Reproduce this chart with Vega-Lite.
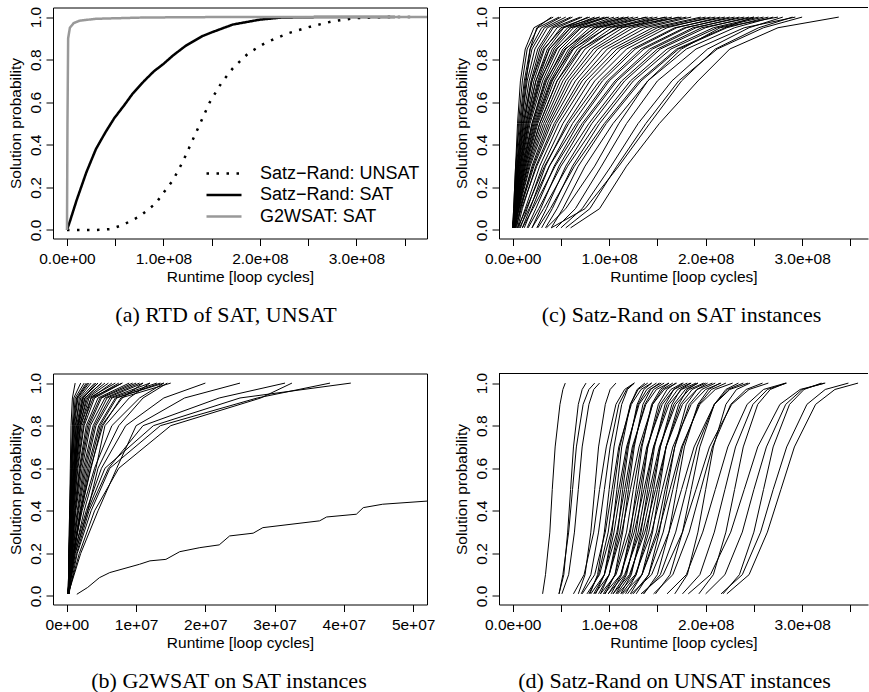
{
"$schema": "https://vega.github.io/schema/vega-lite/v6.json",
"padding": {"left": 7, "top": 5.5, "right": 0, "bottom": 0},
"autosize": {"type": "pad"},
"background": "white",
"config": {
 "font": "Liberation Sans",
 "view": {"stroke": "black", "strokeWidth": 1},
 "axis": {"grid": false, "domain": false, "tickColor": "black", "tickWidth": 1, "tickSize": 7, "labelColor": "black", "labelFont": "Liberation Sans", "labelFontSize": 15.5, "titleFont": "Liberation Sans", "titleFontSize": 15.5, "titleFontWeight": "normal", "titleColor": "black", "labelFlush": false, "labelOverlap": false},
 "axisX": {"labelPadding": 5.5, "titlePadding": 3},
 "axisY": {"labelAngle": -90, "labelAlign": "center", "labelBaseline": "alphabetic", "labelPadding": 6, "titlePadding": 5}
},
"datasets": {
"a": [
{"s":"Satz−Rand: UNSAT","x":0,"y":0},{"s":"Satz−Rand: UNSAT","x":0.3e8,"y":0},{"s":"Satz−Rand: UNSAT","x":0.45e8,"y":0.004},{"s":"Satz−Rand: UNSAT","x":0.58e8,"y":0.024},{"s":"Satz−Rand: UNSAT","x":0.75e8,"y":0.063},{"s":"Satz−Rand: UNSAT","x":0.92e8,"y":0.125},{"s":"Satz−Rand: UNSAT","x":1.0e8,"y":0.175},{"s":"Satz−Rand: UNSAT","x":1.1e8,"y":0.235},{"s":"Satz−Rand: UNSAT","x":1.2e8,"y":0.32},{"s":"Satz−Rand: UNSAT","x":1.27e8,"y":0.39},{"s":"Satz−Rand: UNSAT","x":1.38e8,"y":0.5},{"s":"Satz−Rand: UNSAT","x":1.48e8,"y":0.6},{"s":"Satz−Rand: UNSAT","x":1.6e8,"y":0.69},{"s":"Satz−Rand: UNSAT","x":1.72e8,"y":0.76},{"s":"Satz−Rand: UNSAT","x":1.88e8,"y":0.83},{"s":"Satz−Rand: UNSAT","x":2.06e8,"y":0.88},{"s":"Satz−Rand: UNSAT","x":2.3e8,"y":0.925},{"s":"Satz−Rand: UNSAT","x":2.53e8,"y":0.956},{"s":"Satz−Rand: UNSAT","x":2.75e8,"y":0.98},{"s":"Satz−Rand: UNSAT","x":2.99e8,"y":0.995},{"s":"Satz−Rand: UNSAT","x":3.3e8,"y":1},{"s":"Satz−Rand: UNSAT","x":3.6e8,"y":1},
{"s":"Satz−Rand: SAT","x":0,"y":0},{"s":"Satz−Rand: SAT","x":0.03e8,"y":0.04},{"s":"Satz−Rand: SAT","x":0.1e8,"y":0.14},{"s":"Satz−Rand: SAT","x":0.2e8,"y":0.27},{"s":"Satz−Rand: SAT","x":0.3e8,"y":0.38},{"s":"Satz−Rand: SAT","x":0.4e8,"y":0.46},{"s":"Satz−Rand: SAT","x":0.49e8,"y":0.525},{"s":"Satz−Rand: SAT","x":0.6e8,"y":0.59},{"s":"Satz−Rand: SAT","x":0.68e8,"y":0.64},{"s":"Satz−Rand: SAT","x":0.8e8,"y":0.7},{"s":"Satz−Rand: SAT","x":0.9e8,"y":0.745},{"s":"Satz−Rand: SAT","x":1.0e8,"y":0.78},{"s":"Satz−Rand: SAT","x":1.1e8,"y":0.82},{"s":"Satz−Rand: SAT","x":1.23e8,"y":0.865},{"s":"Satz−Rand: SAT","x":1.4e8,"y":0.91},{"s":"Satz−Rand: SAT","x":1.51e8,"y":0.93},{"s":"Satz−Rand: SAT","x":1.72e8,"y":0.965},{"s":"Satz−Rand: SAT","x":2.0e8,"y":0.988},{"s":"Satz−Rand: SAT","x":2.23e8,"y":0.998},{"s":"Satz−Rand: SAT","x":2.6e8,"y":1},{"s":"Satz−Rand: SAT","x":3.4e8,"y":1},
{"s":"G2WSAT: SAT","x":0,"y":0},{"s":"G2WSAT: SAT","x":0.005e8,"y":0.5},{"s":"G2WSAT: SAT","x":0.012e8,"y":0.9},{"s":"G2WSAT: SAT","x":0.03e8,"y":0.95},{"s":"G2WSAT: SAT","x":0.07e8,"y":0.972},{"s":"G2WSAT: SAT","x":0.13e8,"y":0.983},{"s":"G2WSAT: SAT","x":0.3e8,"y":0.992},{"s":"G2WSAT: SAT","x":0.8e8,"y":0.998},{"s":"G2WSAT: SAT","x":1.5e8,"y":1},{"s":"G2WSAT: SAT","x":3.8e8,"y":1}
],
"c": [
{"i":1,"x":0.01e8,"y":0.01},{"i":1,"x":0.02e8,"y":0.1},{"i":1,"x":0.05e8,"y":0.3},{"i":1,"x":0.09e8,"y":0.5},{"i":1,"x":0.14e8,"y":0.7},{"i":1,"x":0.18e8,"y":0.85},{"i":1,"x":0.25e8,"y":0.95},{"i":1,"x":0.4e8,"y":1},
{"i":2,"x":0.0e8,"y":0.01},{"i":2,"x":0.01e8,"y":0.1},{"i":2,"x":0.03e8,"y":0.3},{"i":2,"x":0.05e8,"y":0.5},{"i":2,"x":0.08e8,"y":0.7},{"i":2,"x":0.13e8,"y":0.85},{"i":2,"x":0.22e8,"y":0.95},{"i":2,"x":0.42e8,"y":1},
{"i":3,"x":0.01e8,"y":0.01},{"i":3,"x":0.015e8,"y":0.1},{"i":3,"x":0.035e8,"y":0.3},{"i":3,"x":0.06e8,"y":0.5},{"i":3,"x":0.1e8,"y":0.7},{"i":3,"x":0.15e8,"y":0.85},{"i":3,"x":0.26e8,"y":0.95},{"i":3,"x":0.48e8,"y":1},
{"i":4,"x":0.0e8,"y":0.01},{"i":4,"x":0.01e8,"y":0.1},{"i":4,"x":0.03e8,"y":0.3},{"i":4,"x":0.07e8,"y":0.5},{"i":4,"x":0.12e8,"y":0.7},{"i":4,"x":0.18e8,"y":0.85},{"i":4,"x":0.3e8,"y":0.95},{"i":4,"x":0.5e8,"y":1},
{"i":5,"x":0.005e8,"y":0.01},{"i":5,"x":0.015e8,"y":0.1},{"i":5,"x":0.04e8,"y":0.3},{"i":5,"x":0.08e8,"y":0.5},{"i":5,"x":0.13e8,"y":0.7},{"i":5,"x":0.2e8,"y":0.85},{"i":5,"x":0.33e8,"y":0.95},{"i":5,"x":0.55e8,"y":1},
{"i":6,"x":0.0e8,"y":0.01},{"i":6,"x":0.02e8,"y":0.1},{"i":6,"x":0.045e8,"y":0.3},{"i":6,"x":0.09e8,"y":0.5},{"i":6,"x":0.15e8,"y":0.7},{"i":6,"x":0.23e8,"y":0.85},{"i":6,"x":0.36e8,"y":0.95},{"i":6,"x":0.6e8,"y":1},
{"i":7,"x":0.01e8,"y":0.01},{"i":7,"x":0.02e8,"y":0.1},{"i":7,"x":0.05e8,"y":0.3},{"i":7,"x":0.1e8,"y":0.5},{"i":7,"x":0.17e8,"y":0.7},{"i":7,"x":0.26e8,"y":0.85},{"i":7,"x":0.4e8,"y":0.95},{"i":7,"x":0.62e8,"y":1},
{"i":8,"x":0.0e8,"y":0.01},{"i":8,"x":0.015e8,"y":0.1},{"i":8,"x":0.055e8,"y":0.3},{"i":8,"x":0.11e8,"y":0.5},{"i":8,"x":0.19e8,"y":0.7},{"i":8,"x":0.28e8,"y":0.85},{"i":8,"x":0.42e8,"y":0.95},{"i":8,"x":0.7e8,"y":1},
{"i":9,"x":0.01e8,"y":0.01},{"i":9,"x":0.025e8,"y":0.1},{"i":9,"x":0.06e8,"y":0.3},{"i":9,"x":0.12e8,"y":0.5},{"i":9,"x":0.2e8,"y":0.7},{"i":9,"x":0.3e8,"y":0.85},{"i":9,"x":0.46e8,"y":0.95},{"i":9,"x":0.72e8,"y":1},
{"i":10,"x":0.0e8,"y":0.01},{"i":10,"x":0.02e8,"y":0.1},{"i":10,"x":0.065e8,"y":0.3},{"i":10,"x":0.13e8,"y":0.5},{"i":10,"x":0.22e8,"y":0.7},{"i":10,"x":0.33e8,"y":0.85},{"i":10,"x":0.5e8,"y":0.95},{"i":10,"x":0.8e8,"y":1},
{"i":11,"x":0.02e8,"y":0.01},{"i":11,"x":0.03e8,"y":0.1},{"i":11,"x":0.07e8,"y":0.3},{"i":11,"x":0.14e8,"y":0.5},{"i":11,"x":0.24e8,"y":0.7},{"i":11,"x":0.36e8,"y":0.85},{"i":11,"x":0.53e8,"y":0.95},{"i":11,"x":0.78e8,"y":1},
{"i":12,"x":0.0e8,"y":0.01},{"i":12,"x":0.025e8,"y":0.1},{"i":12,"x":0.075e8,"y":0.3},{"i":12,"x":0.15e8,"y":0.5},{"i":12,"x":0.26e8,"y":0.7},{"i":12,"x":0.38e8,"y":0.85},{"i":12,"x":0.57e8,"y":0.95},{"i":12,"x":0.85e8,"y":1},
{"i":13,"x":0.01e8,"y":0.01},{"i":13,"x":0.03e8,"y":0.1},{"i":13,"x":0.08e8,"y":0.3},{"i":13,"x":0.16e8,"y":0.5},{"i":13,"x":0.27e8,"y":0.7},{"i":13,"x":0.41e8,"y":0.85},{"i":13,"x":0.6e8,"y":0.95},{"i":13,"x":0.9e8,"y":1},
{"i":14,"x":0.0e8,"y":0.01},{"i":14,"x":0.03e8,"y":0.1},{"i":14,"x":0.09e8,"y":0.3},{"i":14,"x":0.17e8,"y":0.5},{"i":14,"x":0.29e8,"y":0.7},{"i":14,"x":0.43e8,"y":0.85},{"i":14,"x":0.63e8,"y":0.95},{"i":14,"x":0.95e8,"y":1},
{"i":15,"x":0.02e8,"y":0.01},{"i":15,"x":0.04e8,"y":0.1},{"i":15,"x":0.1e8,"y":0.3},{"i":15,"x":0.18e8,"y":0.5},{"i":15,"x":0.31e8,"y":0.7},{"i":15,"x":0.46e8,"y":0.85},{"i":15,"x":0.67e8,"y":0.95},{"i":15,"x":0.98e8,"y":1},
{"i":16,"x":0.0e8,"y":0.01},{"i":16,"x":0.03e8,"y":0.1},{"i":16,"x":0.1e8,"y":0.3},{"i":16,"x":0.2e8,"y":0.5},{"i":16,"x":0.33e8,"y":0.7},{"i":16,"x":0.49e8,"y":0.85},{"i":16,"x":0.71e8,"y":0.95},{"i":16,"x":1.05e8,"y":1},
{"i":17,"x":0.01e8,"y":0.01},{"i":17,"x":0.035e8,"y":0.1},{"i":17,"x":0.11e8,"y":0.3},{"i":17,"x":0.21e8,"y":0.5},{"i":17,"x":0.35e8,"y":0.7},{"i":17,"x":0.52e8,"y":0.85},{"i":17,"x":0.75e8,"y":0.95},{"i":17,"x":1.1e8,"y":1},
{"i":18,"x":0.0e8,"y":0.01},{"i":18,"x":0.04e8,"y":0.1},{"i":18,"x":0.12e8,"y":0.3},{"i":18,"x":0.22e8,"y":0.5},{"i":18,"x":0.37e8,"y":0.7},{"i":18,"x":0.55e8,"y":0.85},{"i":18,"x":0.8e8,"y":0.95},{"i":18,"x":1.15e8,"y":1},
{"i":19,"x":0.02e8,"y":0.01},{"i":19,"x":0.045e8,"y":0.1},{"i":19,"x":0.12e8,"y":0.3},{"i":19,"x":0.23e8,"y":0.5},{"i":19,"x":0.39e8,"y":0.7},{"i":19,"x":0.58e8,"y":0.85},{"i":19,"x":0.84e8,"y":0.95},{"i":19,"x":1.2e8,"y":1},
{"i":20,"x":0.0e8,"y":0.01},{"i":20,"x":0.04e8,"y":0.1},{"i":20,"x":0.13e8,"y":0.3},{"i":20,"x":0.25e8,"y":0.5},{"i":20,"x":0.41e8,"y":0.7},{"i":20,"x":0.6e8,"y":0.85},{"i":20,"x":0.88e8,"y":0.95},{"i":20,"x":1.25e8,"y":1},
{"i":21,"x":0.01e8,"y":0.01},{"i":21,"x":0.05e8,"y":0.1},{"i":21,"x":0.14e8,"y":0.3},{"i":21,"x":0.26e8,"y":0.5},{"i":21,"x":0.43e8,"y":0.7},{"i":21,"x":0.63e8,"y":0.85},{"i":21,"x":0.92e8,"y":0.95},{"i":21,"x":1.3e8,"y":1},
{"i":22,"x":0.03e8,"y":0.01},{"i":22,"x":0.06e8,"y":0.1},{"i":22,"x":0.15e8,"y":0.3},{"i":22,"x":0.28e8,"y":0.5},{"i":22,"x":0.46e8,"y":0.7},{"i":22,"x":0.67e8,"y":0.85},{"i":22,"x":0.97e8,"y":0.95},{"i":22,"x":1.38e8,"y":1},
{"i":23,"x":0.0e8,"y":0.01},{"i":23,"x":0.05e8,"y":0.1},{"i":23,"x":0.16e8,"y":0.3},{"i":23,"x":0.3e8,"y":0.5},{"i":23,"x":0.49e8,"y":0.7},{"i":23,"x":0.71e8,"y":0.85},{"i":23,"x":1.03e8,"y":0.95},{"i":23,"x":1.45e8,"y":1},
{"i":24,"x":0.02e8,"y":0.01},{"i":24,"x":0.06e8,"y":0.1},{"i":24,"x":0.17e8,"y":0.3},{"i":24,"x":0.32e8,"y":0.5},{"i":24,"x":0.52e8,"y":0.7},{"i":24,"x":0.75e8,"y":0.85},{"i":24,"x":1.08e8,"y":0.95},{"i":24,"x":1.5e8,"y":1},
{"i":25,"x":0.01e8,"y":0.01},{"i":25,"x":0.065e8,"y":0.1},{"i":25,"x":0.18e8,"y":0.3},{"i":25,"x":0.34e8,"y":0.5},{"i":25,"x":0.55e8,"y":0.7},{"i":25,"x":0.8e8,"y":0.85},{"i":25,"x":1.14e8,"y":0.95},{"i":25,"x":1.58e8,"y":1},
{"i":26,"x":0.04e8,"y":0.01},{"i":26,"x":0.08e8,"y":0.1},{"i":26,"x":0.2e8,"y":0.3},{"i":26,"x":0.36e8,"y":0.5},{"i":26,"x":0.58e8,"y":0.7},{"i":26,"x":0.84e8,"y":0.85},{"i":26,"x":1.2e8,"y":0.95},{"i":26,"x":1.65e8,"y":1},
{"i":27,"x":0.0e8,"y":0.01},{"i":27,"x":0.07e8,"y":0.1},{"i":27,"x":0.21e8,"y":0.3},{"i":27,"x":0.38e8,"y":0.5},{"i":27,"x":0.61e8,"y":0.7},{"i":27,"x":0.88e8,"y":0.85},{"i":27,"x":1.25e8,"y":0.95},{"i":27,"x":1.72e8,"y":1},
{"i":28,"x":0.02e8,"y":0.01},{"i":28,"x":0.08e8,"y":0.1},{"i":28,"x":0.22e8,"y":0.3},{"i":28,"x":0.4e8,"y":0.5},{"i":28,"x":0.65e8,"y":0.7},{"i":28,"x":0.93e8,"y":0.85},{"i":28,"x":1.32e8,"y":0.95},{"i":28,"x":1.8e8,"y":1},
{"i":29,"x":0.05e8,"y":0.01},{"i":29,"x":0.1e8,"y":0.1},{"i":29,"x":0.24e8,"y":0.3},{"i":29,"x":0.43e8,"y":0.5},{"i":29,"x":0.69e8,"y":0.7},{"i":29,"x":0.98e8,"y":0.85},{"i":29,"x":1.38e8,"y":0.95},{"i":29,"x":1.85e8,"y":1},
{"i":30,"x":0.03e8,"y":0.01},{"i":30,"x":0.09e8,"y":0.1},{"i":30,"x":0.25e8,"y":0.3},{"i":30,"x":0.45e8,"y":0.5},{"i":30,"x":0.72e8,"y":0.7},{"i":30,"x":1.03e8,"y":0.85},{"i":30,"x":1.45e8,"y":0.95},{"i":30,"x":1.95e8,"y":1},
{"i":31,"x":0.06e8,"y":0.01},{"i":31,"x":0.13e8,"y":0.1},{"i":31,"x":0.28e8,"y":0.3},{"i":31,"x":0.48e8,"y":0.5},{"i":31,"x":0.76e8,"y":0.7},{"i":31,"x":1.08e8,"y":0.85},{"i":31,"x":1.5e8,"y":0.95},{"i":31,"x":2.0e8,"y":1},
{"i":32,"x":0.08e8,"y":0.01},{"i":32,"x":0.15e8,"y":0.1},{"i":32,"x":0.31e8,"y":0.3},{"i":32,"x":0.52e8,"y":0.5},{"i":32,"x":0.8e8,"y":0.7},{"i":32,"x":1.12e8,"y":0.85},{"i":32,"x":1.55e8,"y":0.95},{"i":32,"x":2.1e8,"y":1},
{"i":33,"x":0.1e8,"y":0.01},{"i":33,"x":0.18e8,"y":0.1},{"i":33,"x":0.34e8,"y":0.3},{"i":33,"x":0.56e8,"y":0.5},{"i":33,"x":0.85e8,"y":0.7},{"i":33,"x":1.18e8,"y":0.85},{"i":33,"x":1.6e8,"y":0.95},{"i":33,"x":2.05e8,"y":1},
{"i":34,"x":0.05e8,"y":0.01},{"i":34,"x":0.14e8,"y":0.1},{"i":34,"x":0.33e8,"y":0.3},{"i":34,"x":0.58e8,"y":0.5},{"i":34,"x":0.9e8,"y":0.7},{"i":34,"x":1.24e8,"y":0.85},{"i":34,"x":1.68e8,"y":0.95},{"i":34,"x":2.2e8,"y":1},
{"i":35,"x":0.12e8,"y":0.01},{"i":35,"x":0.2e8,"y":0.1},{"i":35,"x":0.38e8,"y":0.3},{"i":35,"x":0.62e8,"y":0.5},{"i":35,"x":0.93e8,"y":0.7},{"i":35,"x":1.27e8,"y":0.85},{"i":35,"x":1.7e8,"y":0.95},{"i":35,"x":2.15e8,"y":1},
{"i":36,"x":0.07e8,"y":0.01},{"i":36,"x":0.17e8,"y":0.1},{"i":36,"x":0.38e8,"y":0.3},{"i":36,"x":0.66e8,"y":0.5},{"i":36,"x":0.98e8,"y":0.7},{"i":36,"x":1.33e8,"y":0.85},{"i":36,"x":1.78e8,"y":0.95},{"i":36,"x":2.3e8,"y":1},
{"i":37,"x":0.15e8,"y":0.01},{"i":37,"x":0.24e8,"y":0.1},{"i":37,"x":0.43e8,"y":0.3},{"i":37,"x":0.68e8,"y":0.5},{"i":37,"x":1.0e8,"y":0.7},{"i":37,"x":1.36e8,"y":0.85},{"i":37,"x":1.8e8,"y":0.95},{"i":37,"x":2.25e8,"y":1},
{"i":38,"x":0.1e8,"y":0.01},{"i":38,"x":0.21e8,"y":0.1},{"i":38,"x":0.44e8,"y":0.3},{"i":38,"x":0.72e8,"y":0.5},{"i":38,"x":1.06e8,"y":0.7},{"i":38,"x":1.42e8,"y":0.85},{"i":38,"x":1.87e8,"y":0.95},{"i":38,"x":2.4e8,"y":1},
{"i":39,"x":0.2e8,"y":0.01},{"i":39,"x":0.29e8,"y":0.1},{"i":39,"x":0.48e8,"y":0.3},{"i":39,"x":0.74e8,"y":0.5},{"i":39,"x":1.08e8,"y":0.7},{"i":39,"x":1.45e8,"y":0.85},{"i":39,"x":1.9e8,"y":0.95},{"i":39,"x":2.35e8,"y":1},
{"i":40,"x":0.16e8,"y":0.01},{"i":40,"x":0.27e8,"y":0.1},{"i":40,"x":0.5e8,"y":0.3},{"i":40,"x":0.79e8,"y":0.5},{"i":40,"x":1.13e8,"y":0.7},{"i":40,"x":1.5e8,"y":0.85},{"i":40,"x":1.96e8,"y":0.95},{"i":40,"x":2.5e8,"y":1},
{"i":41,"x":0.25e8,"y":0.01},{"i":41,"x":0.35e8,"y":0.1},{"i":41,"x":0.55e8,"y":0.3},{"i":41,"x":0.82e8,"y":0.5},{"i":41,"x":1.16e8,"y":0.7},{"i":41,"x":1.53e8,"y":0.85},{"i":41,"x":2.0e8,"y":0.95},{"i":41,"x":2.45e8,"y":1},
{"i":42,"x":0.2e8,"y":0.01},{"i":42,"x":0.32e8,"y":0.1},{"i":42,"x":0.57e8,"y":0.3},{"i":42,"x":0.87e8,"y":0.5},{"i":42,"x":1.22e8,"y":0.7},{"i":42,"x":1.6e8,"y":0.85},{"i":42,"x":2.08e8,"y":0.95},{"i":42,"x":2.55e8,"y":1},
{"i":43,"x":0.3e8,"y":0.01},{"i":43,"x":0.41e8,"y":0.1},{"i":43,"x":0.62e8,"y":0.3},{"i":43,"x":0.9e8,"y":0.5},{"i":43,"x":1.25e8,"y":0.7},{"i":43,"x":1.64e8,"y":0.85},{"i":43,"x":2.12e8,"y":0.95},{"i":43,"x":2.6e8,"y":1},
{"i":44,"x":0.26e8,"y":0.01},{"i":44,"x":0.39e8,"y":0.1},{"i":44,"x":0.64e8,"y":0.3},{"i":44,"x":0.95e8,"y":0.5},{"i":44,"x":1.31e8,"y":0.7},{"i":44,"x":1.7e8,"y":0.85},{"i":44,"x":2.2e8,"y":0.95},{"i":44,"x":2.5e8,"y":1},
{"i":45,"x":0.34e8,"y":0.01},{"i":45,"x":0.46e8,"y":0.1},{"i":45,"x":0.68e8,"y":0.3},{"i":45,"x":0.97e8,"y":0.5},{"i":45,"x":1.33e8,"y":0.7},{"i":45,"x":1.72e8,"y":0.85},{"i":45,"x":2.22e8,"y":0.95},{"i":45,"x":2.65e8,"y":1},
{"i":46,"x":0.4e8,"y":0.01},{"i":46,"x":0.52e8,"y":0.1},{"i":46,"x":0.75e8,"y":0.3},{"i":46,"x":1.04e8,"y":0.5},{"i":46,"x":1.4e8,"y":0.7},{"i":46,"x":1.8e8,"y":0.85},{"i":46,"x":2.3e8,"y":0.95},{"i":46,"x":2.7e8,"y":1},
{"i":47,"x":0.35e8,"y":0.01},{"i":47,"x":0.55e8,"y":0.1},{"i":47,"x":0.85e8,"y":0.3},{"i":47,"x":1.1e8,"y":0.5},{"i":47,"x":1.4e8,"y":0.7},{"i":47,"x":1.75e8,"y":0.85},{"i":47,"x":2.15e8,"y":0.95},{"i":47,"x":2.75e8,"y":1},
{"i":48,"x":0.45e8,"y":0.01},{"i":48,"x":0.65e8,"y":0.1},{"i":48,"x":0.92e8,"y":0.3},{"i":48,"x":1.18e8,"y":0.5},{"i":48,"x":1.5e8,"y":0.7},{"i":48,"x":1.9e8,"y":0.85},{"i":48,"x":2.4e8,"y":0.95},{"i":48,"x":2.93e8,"y":1},
{"i":49,"x":0.5e8,"y":0.01},{"i":49,"x":0.72e8,"y":0.1},{"i":49,"x":1.02e8,"y":0.3},{"i":49,"x":1.3e8,"y":0.5},{"i":49,"x":1.65e8,"y":0.7},{"i":49,"x":2.02e8,"y":0.85},{"i":49,"x":2.45e8,"y":0.95},{"i":49,"x":2.8e8,"y":1},
{"i":50,"x":0.6e8,"y":0.01},{"i":50,"x":0.9e8,"y":0.1},{"i":50,"x":1.18e8,"y":0.3},{"i":50,"x":1.52e8,"y":0.5},{"i":50,"x":1.92e8,"y":0.7},{"i":50,"x":2.25e8,"y":0.85},{"i":50,"x":2.75e8,"y":0.95},{"i":50,"x":3.38e8,"y":1},
{"i":51,"x":0.4e8,"y":0.01},{"i":51,"x":0.75e8,"y":0.1},{"i":51,"x":1.1e8,"y":0.3},{"i":51,"x":1.42e8,"y":0.5},{"i":51,"x":1.75e8,"y":0.7},{"i":51,"x":2.1e8,"y":0.85},{"i":51,"x":2.55e8,"y":0.95},{"i":51,"x":2.9e8,"y":1},
{"i":52,"x":0.55e8,"y":0.01},{"i":52,"x":0.8e8,"y":0.1},{"i":52,"x":1.08e8,"y":0.3},{"i":52,"x":1.38e8,"y":0.5},{"i":52,"x":1.72e8,"y":0.7},{"i":52,"x":2.12e8,"y":0.85},{"i":52,"x":2.6e8,"y":0.95},{"i":52,"x":3.0e8,"y":1},
{"i":53,"x":0.0e8,"y":0.01},{"i":53,"x":0.02e8,"y":0.1},{"i":53,"x":0.06e8,"y":0.3},{"i":53,"x":0.11e8,"y":0.5},{"i":53,"x":0.2e8,"y":0.7},{"i":53,"x":0.32e8,"y":0.85},{"i":53,"x":0.52e8,"y":0.95},{"i":53,"x":0.9e8,"y":1},
{"i":54,"x":0.01e8,"y":0.01},{"i":54,"x":0.03e8,"y":0.1},{"i":54,"x":0.09e8,"y":0.3},{"i":54,"x":0.16e8,"y":0.5},{"i":54,"x":0.28e8,"y":0.7},{"i":54,"x":0.45e8,"y":0.85},{"i":54,"x":0.7e8,"y":0.95},{"i":54,"x":1.2e8,"y":1},
{"i":55,"x":0.0e8,"y":0.01},{"i":55,"x":0.04e8,"y":0.1},{"i":55,"x":0.11e8,"y":0.3},{"i":55,"x":0.2e8,"y":0.5},{"i":55,"x":0.34e8,"y":0.7},{"i":55,"x":0.54e8,"y":0.85},{"i":55,"x":0.85e8,"y":0.95},{"i":55,"x":1.4e8,"y":1},
{"i":56,"x":0.02e8,"y":0.01},{"i":56,"x":0.05e8,"y":0.1},{"i":56,"x":0.13e8,"y":0.3},{"i":56,"x":0.24e8,"y":0.5},{"i":56,"x":0.4e8,"y":0.7},{"i":56,"x":0.62e8,"y":0.85},{"i":56,"x":0.98e8,"y":0.95},{"i":56,"x":1.6e8,"y":1},
{"i":57,"x":0.0e8,"y":0.01},{"i":57,"x":0.03e8,"y":0.1},{"i":57,"x":0.08e8,"y":0.3},{"i":57,"x":0.14e8,"y":0.5},{"i":57,"x":0.24e8,"y":0.7},{"i":57,"x":0.38e8,"y":0.85},{"i":57,"x":0.6e8,"y":0.95},{"i":57,"x":1.0e8,"y":1},
{"i":58,"x":0.01e8,"y":0.01},{"i":58,"x":0.06e8,"y":0.1},{"i":58,"x":0.15e8,"y":0.3},{"i":58,"x":0.28e8,"y":0.5},{"i":58,"x":0.46e8,"y":0.7},{"i":58,"x":0.7e8,"y":0.85},{"i":58,"x":1.1e8,"y":0.95},{"i":58,"x":1.75e8,"y":1}
],
"b": [
{"i":1,"x":0.02e7,"y":0.01},{"i":1,"x":0.03e7,"y":0.2},{"i":1,"x":0.04e7,"y":0.4},{"i":1,"x":0.05e7,"y":0.6},{"i":1,"x":0.06e7,"y":0.8},{"i":1,"x":0.08e7,"y":0.93},{"i":1,"x":0.12e7,"y":1},
{"i":2,"x":0.02e7,"y":0.01},{"i":2,"x":0.03e7,"y":0.2},{"i":2,"x":0.05e7,"y":0.4},{"i":2,"x":0.07e7,"y":0.6},{"i":2,"x":0.1e7,"y":0.8},{"i":2,"x":0.15e7,"y":0.93},{"i":2,"x":0.3e7,"y":1},
{"i":3,"x":0.02e7,"y":0.01},{"i":3,"x":0.04e7,"y":0.2},{"i":3,"x":0.06e7,"y":0.4},{"i":3,"x":0.09e7,"y":0.6},{"i":3,"x":0.14e7,"y":0.8},{"i":3,"x":0.22e7,"y":0.93},{"i":3,"x":0.45e7,"y":1},
{"i":4,"x":0.02e7,"y":0.01},{"i":4,"x":0.04e7,"y":0.2},{"i":4,"x":0.07e7,"y":0.4},{"i":4,"x":0.11e7,"y":0.6},{"i":4,"x":0.18e7,"y":0.8},{"i":4,"x":0.3e7,"y":0.93},{"i":4,"x":0.6e7,"y":1},
{"i":5,"x":0.02e7,"y":0.01},{"i":5,"x":0.05e7,"y":0.2},{"i":5,"x":0.09e7,"y":0.4},{"i":5,"x":0.14e7,"y":0.6},{"i":5,"x":0.22e7,"y":0.8},{"i":5,"x":0.38e7,"y":0.93},{"i":5,"x":0.75e7,"y":1},
{"i":6,"x":0.02e7,"y":0.01},{"i":6,"x":0.06e7,"y":0.2},{"i":6,"x":0.11e7,"y":0.4},{"i":6,"x":0.18e7,"y":0.6},{"i":6,"x":0.28e7,"y":0.8},{"i":6,"x":0.45e7,"y":0.93},{"i":6,"x":0.9e7,"y":1},
{"i":7,"x":0.02e7,"y":0.01},{"i":7,"x":0.07e7,"y":0.2},{"i":7,"x":0.13e7,"y":0.4},{"i":7,"x":0.22e7,"y":0.6},{"i":7,"x":0.34e7,"y":0.8},{"i":7,"x":0.55e7,"y":0.93},{"i":7,"x":1.05e7,"y":1},
{"i":8,"x":0.02e7,"y":0.01},{"i":8,"x":0.08e7,"y":0.2},{"i":8,"x":0.16e7,"y":0.4},{"i":8,"x":0.26e7,"y":0.6},{"i":8,"x":0.4e7,"y":0.8},{"i":8,"x":0.62e7,"y":0.93},{"i":8,"x":1.2e7,"y":1},
{"i":9,"x":0.02e7,"y":0.01},{"i":9,"x":0.09e7,"y":0.2},{"i":9,"x":0.19e7,"y":0.4},{"i":9,"x":0.3e7,"y":0.6},{"i":9,"x":0.46e7,"y":0.8},{"i":9,"x":0.7e7,"y":0.93},{"i":9,"x":1.4e7,"y":1},
{"i":10,"x":0.03e7,"y":0.01},{"i":10,"x":0.1e7,"y":0.2},{"i":10,"x":0.21e7,"y":0.4},{"i":10,"x":0.34e7,"y":0.6},{"i":10,"x":0.52e7,"y":0.8},{"i":10,"x":0.78e7,"y":0.93},{"i":10,"x":1.5e7,"y":1},
{"i":11,"x":0.02e7,"y":0.01},{"i":11,"x":0.05e7,"y":0.2},{"i":11,"x":0.08e7,"y":0.4},{"i":11,"x":0.12e7,"y":0.6},{"i":11,"x":0.2e7,"y":0.8},{"i":11,"x":0.32e7,"y":0.93},{"i":11,"x":0.7e7,"y":1},
{"i":12,"x":0.02e7,"y":0.01},{"i":12,"x":0.03e7,"y":0.2},{"i":12,"x":0.06e7,"y":0.4},{"i":12,"x":0.1e7,"y":0.6},{"i":12,"x":0.16e7,"y":0.8},{"i":12,"x":0.26e7,"y":0.93},{"i":12,"x":0.5e7,"y":1},
{"i":13,"x":0.02e7,"y":0.01},{"i":13,"x":0.06e7,"y":0.2},{"i":13,"x":0.12e7,"y":0.4},{"i":13,"x":0.2e7,"y":0.6},{"i":13,"x":0.32e7,"y":0.8},{"i":13,"x":0.5e7,"y":0.93},{"i":13,"x":1.0e7,"y":1},
{"i":14,"x":0.02e7,"y":0.01},{"i":14,"x":0.08e7,"y":0.2},{"i":14,"x":0.17e7,"y":0.4},{"i":14,"x":0.28e7,"y":0.6},{"i":14,"x":0.42e7,"y":0.8},{"i":14,"x":0.65e7,"y":0.93},{"i":14,"x":1.3e7,"y":1},
{"i":15,"x":0.02e7,"y":0.01},{"i":15,"x":0.04e7,"y":0.2},{"i":15,"x":0.08e7,"y":0.4},{"i":15,"x":0.13e7,"y":0.6},{"i":15,"x":0.2e7,"y":0.8},{"i":15,"x":0.35e7,"y":0.93},{"i":15,"x":0.8e7,"y":1},
{"i":16,"x":0.02e7,"y":0.01},{"i":16,"x":0.03e7,"y":0.2},{"i":16,"x":0.05e7,"y":0.4},{"i":16,"x":0.08e7,"y":0.6},{"i":16,"x":0.12e7,"y":0.8},{"i":16,"x":0.2e7,"y":0.93},{"i":16,"x":0.4e7,"y":1},
{"i":17,"x":0.02e7,"y":0.01},{"i":17,"x":0.07e7,"y":0.2},{"i":17,"x":0.15e7,"y":0.4},{"i":17,"x":0.24e7,"y":0.6},{"i":17,"x":0.38e7,"y":0.8},{"i":17,"x":0.58e7,"y":0.93},{"i":17,"x":1.1e7,"y":1},
{"i":18,"x":0.02e7,"y":0.01},{"i":18,"x":0.1e7,"y":0.2},{"i":18,"x":0.2e7,"y":0.4},{"i":18,"x":0.32e7,"y":0.6},{"i":18,"x":0.48e7,"y":0.8},{"i":18,"x":0.72e7,"y":0.93},{"i":18,"x":1.35e7,"y":1},
{"i":19,"x":0.03e7,"y":0.01},{"i":19,"x":0.04e7,"y":0.2},{"i":19,"x":0.05e7,"y":0.4},{"i":19,"x":0.06e7,"y":0.6},{"i":19,"x":0.08e7,"y":0.8},{"i":19,"x":0.1e7,"y":0.93},{"i":19,"x":0.2e7,"y":1},
{"i":20,"x":0.02e7,"y":0.01},{"i":20,"x":0.05e7,"y":0.2},{"i":20,"x":0.07e7,"y":0.4},{"i":20,"x":0.1e7,"y":0.6},{"i":20,"x":0.13e7,"y":0.8},{"i":20,"x":0.18e7,"y":0.93},{"i":20,"x":0.35e7,"y":1},
{"i":21,"x":0.03e7,"y":0.01},{"i":21,"x":0.06e7,"y":0.2},{"i":21,"x":0.09e7,"y":0.4},{"i":21,"x":0.13e7,"y":0.6},{"i":21,"x":0.19e7,"y":0.8},{"i":21,"x":0.28e7,"y":0.93},{"i":21,"x":0.55e7,"y":1},
{"i":22,"x":0.02e7,"y":0.01},{"i":22,"x":0.07e7,"y":0.2},{"i":22,"x":0.1e7,"y":0.4},{"i":22,"x":0.15e7,"y":0.6},{"i":22,"x":0.24e7,"y":0.8},{"i":22,"x":0.35e7,"y":0.93},{"i":22,"x":0.65e7,"y":1},
{"i":23,"x":0.03e7,"y":0.01},{"i":23,"x":0.05e7,"y":0.2},{"i":23,"x":0.08e7,"y":0.4},{"i":23,"x":0.11e7,"y":0.6},{"i":23,"x":0.15e7,"y":0.8},{"i":23,"x":0.24e7,"y":0.93},{"i":23,"x":0.42e7,"y":1},
{"i":24,"x":0.02e7,"y":0.01},{"i":24,"x":0.04e7,"y":0.2},{"i":24,"x":0.05e7,"y":0.4},{"i":24,"x":0.07e7,"y":0.6},{"i":24,"x":0.09e7,"y":0.8},{"i":24,"x":0.12e7,"y":0.93},{"i":24,"x":0.25e7,"y":1},
{"i":25,"x":0.02e7,"y":0.01},{"i":25,"x":0.12e7,"y":0.2},{"i":25,"x":0.3e7,"y":0.4},{"i":25,"x":0.55e7,"y":0.6},{"i":25,"x":1.25e7,"y":0.8},{"i":25,"x":2.5e7,"y":0.93},{"i":25,"x":4.1e7,"y":1},
{"i":26,"x":0.03e7,"y":0.01},{"i":26,"x":0.15e7,"y":0.2},{"i":26,"x":0.35e7,"y":0.4},{"i":26,"x":0.62e7,"y":0.6},{"i":26,"x":1.35e7,"y":0.8},{"i":26,"x":2.75e7,"y":0.93},{"i":26,"x":3.8e7,"y":1},
{"i":27,"x":0.02e7,"y":0.01},{"i":27,"x":0.18e7,"y":0.2},{"i":27,"x":0.4e7,"y":0.4},{"i":27,"x":0.75e7,"y":0.6},{"i":27,"x":1.5e7,"y":0.8},{"i":27,"x":2.8e7,"y":0.93},{"i":27,"x":3.25e7,"y":1},
{"i":28,"x":0.01e7,"y":0.01},{"i":28,"x":0.14e7,"y":0.2},{"i":28,"x":0.32e7,"y":0.4},{"i":28,"x":0.6e7,"y":0.6},{"i":28,"x":1.1e7,"y":0.8},{"i":28,"x":2.2e7,"y":0.93},{"i":28,"x":3.15e7,"y":1},
{"i":29,"x":0.02e7,"y":0.01},{"i":29,"x":0.2e7,"y":0.2},{"i":29,"x":0.45e7,"y":0.4},{"i":29,"x":0.72e7,"y":0.6},{"i":29,"x":1.0e7,"y":0.8},{"i":29,"x":1.7e7,"y":0.93},{"i":29,"x":2.5e7,"y":1},
{"i":30,"x":0.01e7,"y":0.01},{"i":30,"x":0.1e7,"y":0.2},{"i":30,"x":0.28e7,"y":0.4},{"i":30,"x":0.5e7,"y":0.6},{"i":30,"x":0.85e7,"y":0.8},{"i":30,"x":1.4e7,"y":0.93},{"i":30,"x":2.0e7,"y":1},
{"i":31,"x":0.02e7,"y":0.01},{"i":31,"x":0.12e7,"y":0.2},{"i":31,"x":0.3e7,"y":0.4},{"i":31,"x":0.45e7,"y":0.6},{"i":31,"x":0.75e7,"y":0.8},{"i":31,"x":1.1e7,"y":0.93},{"i":31,"x":1.45e7,"y":1},
{"i":32,"x":0.01e7,"y":0.01},{"i":32,"x":0.09e7,"y":0.2},{"i":32,"x":0.22e7,"y":0.4},{"i":32,"x":0.4e7,"y":0.6},{"i":32,"x":0.65e7,"y":0.8},{"i":32,"x":1.05e7,"y":0.93},{"i":32,"x":1.4e7,"y":1},
{"i":33,"x":0.01e7,"y":0.01},{"i":33,"x":0.11e7,"y":0.2},{"i":33,"x":0.25e7,"y":0.4},{"i":33,"x":0.42e7,"y":0.6},{"i":33,"x":0.55e7,"y":0.8},{"i":33,"x":0.9e7,"y":0.93},{"i":33,"x":1.2e7,"y":1},
{"i":34,"x":0.02e7,"y":0.01},{"i":34,"x":0.1e7,"y":0.2},{"i":34,"x":0.2e7,"y":0.4},{"i":34,"x":0.35e7,"y":0.6},{"i":34,"x":0.5e7,"y":0.8},{"i":34,"x":0.8e7,"y":0.93},{"i":34,"x":1.1e7,"y":1},
{"i":35,"x":0.144e7,"y":0.008},{"i":35,"x":0.3e7,"y":0.04},{"i":35,"x":0.47e7,"y":0.086},{"i":35,"x":0.62e7,"y":0.11},{"i":35,"x":1.05e7,"y":0.149},{"i":35,"x":1.2e7,"y":0.165},{"i":35,"x":1.43e7,"y":0.172},{"i":35,"x":1.63e7,"y":0.208},{"i":35,"x":1.92e7,"y":0.227},{"i":35,"x":2.2e7,"y":0.24},{"i":35,"x":2.35e7,"y":0.282},{"i":35,"x":2.69e7,"y":0.295},{"i":35,"x":2.83e7,"y":0.321},{"i":35,"x":3.65e7,"y":0.353},{"i":35,"x":3.75e7,"y":0.371},{"i":35,"x":4.18e7,"y":0.384},{"i":35,"x":4.28e7,"y":0.415},{"i":35,"x":4.56e7,"y":0.431},{"i":35,"x":5.3e7,"y":0.448},
{"i":36,"x":0.02e7,"y":0.01},{"i":36,"x":0.03e7,"y":0.2},{"i":36,"x":0.04e7,"y":0.4},{"i":36,"x":0.06e7,"y":0.6},{"i":36,"x":0.09e7,"y":0.8},{"i":36,"x":0.14e7,"y":0.93},{"i":36,"x":0.28e7,"y":1},
{"i":37,"x":0.03e7,"y":0.01},{"i":37,"x":0.05e7,"y":0.2},{"i":37,"x":0.08e7,"y":0.4},{"i":37,"x":0.12e7,"y":0.6},{"i":37,"x":0.17e7,"y":0.8},{"i":37,"x":0.26e7,"y":0.93},{"i":37,"x":0.5e7,"y":1},
{"i":38,"x":0.02e7,"y":0.01},{"i":38,"x":0.06e7,"y":0.2},{"i":38,"x":0.1e7,"y":0.4},{"i":38,"x":0.16e7,"y":0.6},{"i":38,"x":0.25e7,"y":0.8},{"i":38,"x":0.4e7,"y":0.93},{"i":38,"x":0.8e7,"y":1},
{"i":39,"x":0.02e7,"y":0.01},{"i":39,"x":0.04e7,"y":0.2},{"i":39,"x":0.06e7,"y":0.4},{"i":39,"x":0.08e7,"y":0.6},{"i":39,"x":0.11e7,"y":0.8},{"i":39,"x":0.16e7,"y":0.93},{"i":39,"x":0.32e7,"y":1},
{"i":40,"x":0.03e7,"y":0.01},{"i":40,"x":0.07e7,"y":0.2},{"i":40,"x":0.12e7,"y":0.4},{"i":40,"x":0.19e7,"y":0.6},{"i":40,"x":0.3e7,"y":0.8},{"i":40,"x":0.48e7,"y":0.93},{"i":40,"x":0.95e7,"y":1},
{"i":41,"x":0.02e7,"y":0.01},{"i":41,"x":0.05e7,"y":0.2},{"i":41,"x":0.08e7,"y":0.4},{"i":41,"x":0.11e7,"y":0.6},{"i":41,"x":0.16e7,"y":0.8},{"i":41,"x":0.23e7,"y":0.93},{"i":41,"x":0.45e7,"y":1}
],
"d": [
{"i":1,"x":0.31e8,"y":0.01},{"i":1,"x":0.34e8,"y":0.1},{"i":1,"x":0.385e8,"y":0.3},{"i":1,"x":0.41e8,"y":0.5},{"i":1,"x":0.44e8,"y":0.7},{"i":1,"x":0.49e8,"y":0.9},{"i":1,"x":0.52e8,"y":0.97},{"i":1,"x":0.545e8,"y":1},
{"i":2,"x":0.48e8,"y":0.01},{"i":2,"x":0.53e8,"y":0.1},{"i":2,"x":0.57e8,"y":0.3},{"i":2,"x":0.6e8,"y":0.5},{"i":2,"x":0.63e8,"y":0.7},{"i":2,"x":0.68e8,"y":0.9},{"i":2,"x":0.72e8,"y":0.97},{"i":2,"x":0.76e8,"y":1},
{"i":3,"x":0.48e8,"y":0.01},{"i":3,"x":0.52e8,"y":0.1},{"i":3,"x":0.58e8,"y":0.3},{"i":3,"x":0.62e8,"y":0.5},{"i":3,"x":0.66e8,"y":0.7},{"i":3,"x":0.73e8,"y":0.9},{"i":3,"x":0.79e8,"y":0.97},{"i":3,"x":0.85e8,"y":1},
{"i":4,"x":0.51e8,"y":0.01},{"i":4,"x":0.58e8,"y":0.1},{"i":4,"x":0.64e8,"y":0.3},{"i":4,"x":0.68e8,"y":0.5},{"i":4,"x":0.72e8,"y":0.7},{"i":4,"x":0.79e8,"y":0.9},{"i":4,"x":0.84e8,"y":0.97},{"i":4,"x":0.9e8,"y":1},
{"i":5,"x":0.68e8,"y":0.01},{"i":5,"x":0.75e8,"y":0.1},{"i":5,"x":0.81e8,"y":0.3},{"i":5,"x":0.85e8,"y":0.5},{"i":5,"x":0.89e8,"y":0.7},{"i":5,"x":0.96e8,"y":0.9},{"i":5,"x":1.01e8,"y":0.97},{"i":5,"x":1.07e8,"y":1},
{"i":6,"x":0.63e8,"y":0.01},{"i":6,"x":0.74e8,"y":0.1},{"i":6,"x":0.84e8,"y":0.3},{"i":6,"x":0.9e8,"y":0.5},{"i":6,"x":0.97e8,"y":0.7},{"i":6,"x":1.07e8,"y":0.9},{"i":6,"x":1.16e8,"y":0.97},{"i":6,"x":1.26e8,"y":1},
{"i":7,"x":0.71e8,"y":0.01},{"i":7,"x":0.81e8,"y":0.1},{"i":7,"x":0.89e8,"y":0.3},{"i":7,"x":0.95e8,"y":0.5},{"i":7,"x":1.01e8,"y":0.7},{"i":7,"x":1.1e8,"y":0.9},{"i":7,"x":1.18e8,"y":0.97},{"i":7,"x":1.26e8,"y":1},
{"i":8,"x":0.8e8,"y":0.01},{"i":8,"x":0.88e8,"y":0.1},{"i":8,"x":0.95e8,"y":0.3},{"i":8,"x":1.0e8,"y":0.5},{"i":8,"x":1.05e8,"y":0.7},{"i":8,"x":1.13e8,"y":0.9},{"i":8,"x":1.19e8,"y":0.97},{"i":8,"x":1.26e8,"y":1},
{"i":9,"x":0.72e8,"y":0.01},{"i":9,"x":0.85e8,"y":0.1},{"i":9,"x":0.96e8,"y":0.3},{"i":9,"x":1.03e8,"y":0.5},{"i":9,"x":1.1e8,"y":0.7},{"i":9,"x":1.23e8,"y":0.9},{"i":9,"x":1.33e8,"y":0.97},{"i":9,"x":1.44e8,"y":1},
{"i":10,"x":0.79e8,"y":0.01},{"i":10,"x":0.89e8,"y":0.1},{"i":10,"x":0.99e8,"y":0.3},{"i":10,"x":1.05e8,"y":0.5},{"i":10,"x":1.11e8,"y":0.7},{"i":10,"x":1.22e8,"y":0.9},{"i":10,"x":1.3e8,"y":0.97},{"i":10,"x":1.4e8,"y":1},
{"i":11,"x":0.86e8,"y":0.01},{"i":11,"x":0.95e8,"y":0.1},{"i":11,"x":1.03e8,"y":0.3},{"i":11,"x":1.08e8,"y":0.5},{"i":11,"x":1.13e8,"y":0.7},{"i":11,"x":1.22e8,"y":0.9},{"i":11,"x":1.29e8,"y":0.97},{"i":11,"x":1.37e8,"y":1},
{"i":12,"x":0.77e8,"y":0.01},{"i":12,"x":0.9e8,"y":0.1},{"i":12,"x":1.02e8,"y":0.3},{"i":12,"x":1.1e8,"y":0.5},{"i":12,"x":1.18e8,"y":0.7},{"i":12,"x":1.31e8,"y":0.9},{"i":12,"x":1.42e8,"y":0.97},{"i":12,"x":1.54e8,"y":1},
{"i":13,"x":0.84e8,"y":0.01},{"i":13,"x":0.95e8,"y":0.1},{"i":13,"x":1.05e8,"y":0.3},{"i":13,"x":1.12e8,"y":0.5},{"i":13,"x":1.19e8,"y":0.7},{"i":13,"x":1.3e8,"y":0.9},{"i":13,"x":1.39e8,"y":0.97},{"i":13,"x":1.49e8,"y":1},
{"i":14,"x":0.91e8,"y":0.01},{"i":14,"x":1.0e8,"y":0.1},{"i":14,"x":1.09e8,"y":0.3},{"i":14,"x":1.14e8,"y":0.5},{"i":14,"x":1.2e8,"y":0.7},{"i":14,"x":1.29e8,"y":0.9},{"i":14,"x":1.36e8,"y":0.97},{"i":14,"x":1.44e8,"y":1},
{"i":15,"x":0.81e8,"y":0.01},{"i":15,"x":0.95e8,"y":0.1},{"i":15,"x":1.08e8,"y":0.3},{"i":15,"x":1.16e8,"y":0.5},{"i":15,"x":1.24e8,"y":0.7},{"i":15,"x":1.38e8,"y":0.9},{"i":15,"x":1.49e8,"y":0.97},{"i":15,"x":1.62e8,"y":1},
{"i":16,"x":0.89e8,"y":0.01},{"i":16,"x":1.0e8,"y":0.1},{"i":16,"x":1.11e8,"y":0.3},{"i":16,"x":1.18e8,"y":0.5},{"i":16,"x":1.25e8,"y":0.7},{"i":16,"x":1.37e8,"y":0.9},{"i":16,"x":1.46e8,"y":0.97},{"i":16,"x":1.57e8,"y":1},
{"i":17,"x":0.96e8,"y":0.01},{"i":17,"x":1.06e8,"y":0.1},{"i":17,"x":1.14e8,"y":0.3},{"i":17,"x":1.2e8,"y":0.5},{"i":17,"x":1.26e8,"y":0.7},{"i":17,"x":1.35e8,"y":0.9},{"i":17,"x":1.43e8,"y":0.97},{"i":17,"x":1.52e8,"y":1},
{"i":18,"x":0.85e8,"y":0.01},{"i":18,"x":1.0e8,"y":0.1},{"i":18,"x":1.13e8,"y":0.3},{"i":18,"x":1.22e8,"y":0.5},{"i":18,"x":1.31e8,"y":0.7},{"i":18,"x":1.45e8,"y":0.9},{"i":18,"x":1.57e8,"y":0.97},{"i":18,"x":1.7e8,"y":1},
{"i":19,"x":0.94e8,"y":0.01},{"i":19,"x":1.06e8,"y":0.1},{"i":19,"x":1.18e8,"y":0.3},{"i":19,"x":1.25e8,"y":0.5},{"i":19,"x":1.33e8,"y":0.7},{"i":19,"x":1.45e8,"y":0.9},{"i":19,"x":1.55e8,"y":0.97},{"i":19,"x":1.66e8,"y":1},
{"i":20,"x":1.02e8,"y":0.01},{"i":20,"x":1.13e8,"y":0.1},{"i":20,"x":1.22e8,"y":0.3},{"i":20,"x":1.28e8,"y":0.5},{"i":20,"x":1.34e8,"y":0.7},{"i":20,"x":1.44e8,"y":0.9},{"i":20,"x":1.53e8,"y":0.97},{"i":20,"x":1.62e8,"y":1},
{"i":21,"x":0.91e8,"y":0.01},{"i":21,"x":1.07e8,"y":0.1},{"i":21,"x":1.21e8,"y":0.3},{"i":21,"x":1.3e8,"y":0.5},{"i":21,"x":1.39e8,"y":0.7},{"i":21,"x":1.55e8,"y":0.9},{"i":21,"x":1.67e8,"y":0.97},{"i":21,"x":1.81e8,"y":1},
{"i":22,"x":0.99e8,"y":0.01},{"i":22,"x":1.12e8,"y":0.1},{"i":22,"x":1.24e8,"y":0.3},{"i":22,"x":1.32e8,"y":0.5},{"i":22,"x":1.4e8,"y":0.7},{"i":22,"x":1.53e8,"y":0.9},{"i":22,"x":1.64e8,"y":0.97},{"i":22,"x":1.76e8,"y":1},
{"i":23,"x":1.07e8,"y":0.01},{"i":23,"x":1.18e8,"y":0.1},{"i":23,"x":1.28e8,"y":0.3},{"i":23,"x":1.34e8,"y":0.5},{"i":23,"x":1.4e8,"y":0.7},{"i":23,"x":1.51e8,"y":0.9},{"i":23,"x":1.6e8,"y":0.97},{"i":23,"x":1.69e8,"y":1},
{"i":24,"x":0.95e8,"y":0.01},{"i":24,"x":1.12e8,"y":0.1},{"i":24,"x":1.26e8,"y":0.3},{"i":24,"x":1.36e8,"y":0.5},{"i":24,"x":1.46e8,"y":0.7},{"i":24,"x":1.62e8,"y":0.9},{"i":24,"x":1.75e8,"y":0.97},{"i":24,"x":1.9e8,"y":1},
{"i":25,"x":1.04e8,"y":0.01},{"i":25,"x":1.17e8,"y":0.1},{"i":25,"x":1.3e8,"y":0.3},{"i":25,"x":1.38e8,"y":0.5},{"i":25,"x":1.46e8,"y":0.7},{"i":25,"x":1.6e8,"y":0.9},{"i":25,"x":1.71e8,"y":0.97},{"i":25,"x":1.84e8,"y":1},
{"i":26,"x":1.12e8,"y":0.01},{"i":26,"x":1.23e8,"y":0.1},{"i":26,"x":1.33e8,"y":0.3},{"i":26,"x":1.4e8,"y":0.5},{"i":26,"x":1.47e8,"y":0.7},{"i":26,"x":1.58e8,"y":0.9},{"i":26,"x":1.67e8,"y":0.97},{"i":26,"x":1.77e8,"y":1},
{"i":27,"x":0.99e8,"y":0.01},{"i":27,"x":1.16e8,"y":0.1},{"i":27,"x":1.32e8,"y":0.3},{"i":27,"x":1.42e8,"y":0.5},{"i":27,"x":1.52e8,"y":0.7},{"i":27,"x":1.69e8,"y":0.9},{"i":27,"x":1.83e8,"y":0.97},{"i":27,"x":1.98e8,"y":1},
{"i":28,"x":1.08e8,"y":0.01},{"i":28,"x":1.22e8,"y":0.1},{"i":28,"x":1.35e8,"y":0.3},{"i":28,"x":1.44e8,"y":0.5},{"i":28,"x":1.53e8,"y":0.7},{"i":28,"x":1.67e8,"y":0.9},{"i":28,"x":1.79e8,"y":0.97},{"i":28,"x":1.92e8,"y":1},
{"i":29,"x":1.17e8,"y":0.01},{"i":29,"x":1.28e8,"y":0.1},{"i":29,"x":1.39e8,"y":0.3},{"i":29,"x":1.46e8,"y":0.5},{"i":29,"x":1.53e8,"y":0.7},{"i":29,"x":1.65e8,"y":0.9},{"i":29,"x":1.74e8,"y":0.97},{"i":29,"x":1.85e8,"y":1},
{"i":30,"x":1.04e8,"y":0.01},{"i":30,"x":1.21e8,"y":0.1},{"i":30,"x":1.37e8,"y":0.3},{"i":30,"x":1.48e8,"y":0.5},{"i":30,"x":1.59e8,"y":0.7},{"i":30,"x":1.76e8,"y":0.9},{"i":30,"x":1.91e8,"y":0.97},{"i":30,"x":2.07e8,"y":1},
{"i":31,"x":1.13e8,"y":0.01},{"i":31,"x":1.28e8,"y":0.1},{"i":31,"x":1.41e8,"y":0.3},{"i":31,"x":1.5e8,"y":0.5},{"i":31,"x":1.59e8,"y":0.7},{"i":31,"x":1.74e8,"y":0.9},{"i":31,"x":1.86e8,"y":0.97},{"i":31,"x":2.0e8,"y":1},
{"i":32,"x":1.22e8,"y":0.01},{"i":32,"x":1.34e8,"y":0.1},{"i":32,"x":1.45e8,"y":0.3},{"i":32,"x":1.52e8,"y":0.5},{"i":32,"x":1.59e8,"y":0.7},{"i":32,"x":1.72e8,"y":0.9},{"i":32,"x":1.81e8,"y":0.97},{"i":32,"x":1.92e8,"y":1},
{"i":33,"x":1.09e8,"y":0.01},{"i":33,"x":1.27e8,"y":0.1},{"i":33,"x":1.44e8,"y":0.3},{"i":33,"x":1.55e8,"y":0.5},{"i":33,"x":1.66e8,"y":0.7},{"i":33,"x":1.85e8,"y":0.9},{"i":33,"x":2.0e8,"y":0.97},{"i":33,"x":2.16e8,"y":1},
{"i":34,"x":1.19e8,"y":0.01},{"i":34,"x":1.34e8,"y":0.1},{"i":34,"x":1.49e8,"y":0.3},{"i":34,"x":1.58e8,"y":0.5},{"i":34,"x":1.68e8,"y":0.7},{"i":34,"x":1.83e8,"y":0.9},{"i":34,"x":1.96e8,"y":0.97},{"i":34,"x":2.1e8,"y":1},
{"i":35,"x":1.28e8,"y":0.01},{"i":35,"x":1.41e8,"y":0.1},{"i":35,"x":1.52e8,"y":0.3},{"i":35,"x":1.6e8,"y":0.5},{"i":35,"x":1.68e8,"y":0.7},{"i":35,"x":1.8e8,"y":0.9},{"i":35,"x":1.91e8,"y":0.97},{"i":35,"x":2.02e8,"y":1},
{"i":36,"x":1.14e8,"y":0.01},{"i":36,"x":1.34e8,"y":0.1},{"i":36,"x":1.51e8,"y":0.3},{"i":36,"x":1.63e8,"y":0.5},{"i":36,"x":1.75e8,"y":0.7},{"i":36,"x":1.94e8,"y":0.9},{"i":36,"x":2.1e8,"y":0.97},{"i":36,"x":2.28e8,"y":1},
{"i":37,"x":1.25e8,"y":0.01},{"i":37,"x":1.41e8,"y":0.1},{"i":37,"x":1.56e8,"y":0.3},{"i":37,"x":1.66e8,"y":0.5},{"i":37,"x":1.76e8,"y":0.7},{"i":37,"x":1.93e8,"y":0.9},{"i":37,"x":2.06e8,"y":0.97},{"i":37,"x":2.21e8,"y":1},
{"i":38,"x":1.36e8,"y":0.01},{"i":38,"x":1.5e8,"y":0.1},{"i":38,"x":1.62e8,"y":0.3},{"i":38,"x":1.7e8,"y":0.5},{"i":38,"x":1.78e8,"y":0.7},{"i":38,"x":1.92e8,"y":0.9},{"i":38,"x":2.03e8,"y":0.97},{"i":38,"x":2.15e8,"y":1},
{"i":39,"x":1.23e8,"y":0.01},{"i":39,"x":1.44e8,"y":0.1},{"i":39,"x":1.62e8,"y":0.3},{"i":39,"x":1.75e8,"y":0.5},{"i":39,"x":1.88e8,"y":0.7},{"i":39,"x":2.09e8,"y":0.9},{"i":39,"x":2.25e8,"y":0.97},{"i":39,"x":2.44e8,"y":1},
{"i":40,"x":1.35e8,"y":0.01},{"i":40,"x":1.53e8,"y":0.1},{"i":40,"x":1.69e8,"y":0.3},{"i":40,"x":1.8e8,"y":0.5},{"i":40,"x":1.91e8,"y":0.7},{"i":40,"x":2.09e8,"y":0.9},{"i":40,"x":2.23e8,"y":0.97},{"i":40,"x":2.39e8,"y":1},
{"i":41,"x":1.48e8,"y":0.01},{"i":41,"x":1.63e8,"y":0.1},{"i":41,"x":1.76e8,"y":0.3},{"i":41,"x":1.85e8,"y":0.5},{"i":41,"x":1.94e8,"y":0.7},{"i":41,"x":2.09e8,"y":0.9},{"i":41,"x":2.21e8,"y":0.97},{"i":41,"x":2.34e8,"y":1},
{"i":42,"x":1.33e8,"y":0.01},{"i":42,"x":1.56e8,"y":0.1},{"i":42,"x":1.76e8,"y":0.3},{"i":42,"x":1.9e8,"y":0.5},{"i":42,"x":2.04e8,"y":0.7},{"i":42,"x":2.27e8,"y":0.9},{"i":42,"x":2.45e8,"y":0.97},{"i":42,"x":2.65e8,"y":1},
{"i":43,"x":1.46e8,"y":0.01},{"i":43,"x":1.66e8,"y":0.1},{"i":43,"x":1.83e8,"y":0.3},{"i":43,"x":1.95e8,"y":0.5},{"i":43,"x":2.07e8,"y":0.7},{"i":43,"x":2.26e8,"y":0.9},{"i":43,"x":2.42e8,"y":0.97},{"i":43,"x":2.59e8,"y":1},
{"i":44,"x":1.68e8,"y":0.01},{"i":44,"x":1.81e8,"y":0.1},{"i":44,"x":1.92e8,"y":0.3},{"i":44,"x":2.0e8,"y":0.5},{"i":44,"x":2.08e8,"y":0.7},{"i":44,"x":2.21e8,"y":0.9},{"i":44,"x":2.32e8,"y":0.97},{"i":44,"x":2.46e8,"y":1},
{"i":45,"x":1.6e8,"y":0.01},{"i":45,"x":1.8e8,"y":0.1},{"i":45,"x":1.97e8,"y":0.3},{"i":45,"x":2.1e8,"y":0.5},{"i":45,"x":2.23e8,"y":0.7},{"i":45,"x":2.43e8,"y":0.9},{"i":45,"x":2.6e8,"y":0.97},{"i":45,"x":2.83e8,"y":1},
{"i":46,"x":1.76e8,"y":0.01},{"i":46,"x":1.94e8,"y":0.1},{"i":46,"x":2.09e8,"y":0.3},{"i":46,"x":2.2e8,"y":0.5},{"i":46,"x":2.31e8,"y":0.7},{"i":46,"x":2.49e8,"y":0.9},{"i":46,"x":2.64e8,"y":0.97},{"i":46,"x":2.84e8,"y":1},
{"i":47,"x":1.93e8,"y":0.01},{"i":47,"x":2.08e8,"y":0.1},{"i":47,"x":2.21e8,"y":0.3},{"i":47,"x":2.3e8,"y":0.5},{"i":47,"x":2.39e8,"y":0.7},{"i":47,"x":2.54e8,"y":0.9},{"i":47,"x":2.67e8,"y":0.97},{"i":47,"x":2.83e8,"y":1},
{"i":48,"x":1.82e8,"y":0.01},{"i":48,"x":2.05e8,"y":0.1},{"i":48,"x":2.26e8,"y":0.3},{"i":48,"x":2.4e8,"y":0.5},{"i":48,"x":2.54e8,"y":0.7},{"i":48,"x":2.77e8,"y":0.9},{"i":48,"x":2.98e8,"y":0.97},{"i":48,"x":3.24e8,"y":1},
{"i":49,"x":2.0e8,"y":0.01},{"i":49,"x":2.2e8,"y":0.1},{"i":49,"x":2.38e8,"y":0.3},{"i":49,"x":2.5e8,"y":0.5},{"i":49,"x":2.63e8,"y":0.7},{"i":49,"x":2.83e8,"y":0.9},{"i":49,"x":3.0e8,"y":0.97},{"i":49,"x":3.23e8,"y":1},
{"i":50,"x":2.18e8,"y":0.01},{"i":50,"x":2.35e8,"y":0.1},{"i":50,"x":2.5e8,"y":0.3},{"i":50,"x":2.6e8,"y":0.5},{"i":50,"x":2.7e8,"y":0.7},{"i":50,"x":2.87e8,"y":0.9},{"i":50,"x":3.02e8,"y":0.97},{"i":50,"x":3.2e8,"y":1},
{"i":51,"x":2.16e8,"y":0.01},{"i":51,"x":2.38e8,"y":0.1},{"i":51,"x":2.57e8,"y":0.3},{"i":51,"x":2.7e8,"y":0.5},{"i":51,"x":2.84e8,"y":0.7},{"i":51,"x":3.05e8,"y":0.9},{"i":51,"x":3.24e8,"y":0.97},{"i":51,"x":3.48e8,"y":1},
{"i":52,"x":2.22e8,"y":0.01},{"i":52,"x":2.45e8,"y":0.1},{"i":52,"x":2.64e8,"y":0.3},{"i":52,"x":2.78e8,"y":0.5},{"i":52,"x":2.92e8,"y":0.7},{"i":52,"x":3.14e8,"y":0.9},{"i":52,"x":3.34e8,"y":0.97},{"i":52,"x":3.58e8,"y":1}
]
},
"columns": 2,
"spacing": {"row": 135, "column": 72},
"bounds": "flush",
"concat": [
{
 "width": 374, "height": 231,
 "data": {"name": "a"},
 "title": {"text": "(a) RTD of SAT, UNSAT", "orient": "bottom", "frame": "group", "anchor": "middle", "dx": -14, "offset": 20, "font": "Liberation Serif", "fontSize": 22, "fontWeight": "normal", "color": "black"},
 "mark": {"type": "line", "strokeWidth": 2.5, "clip": true},
 "encoding": {
  "x": {"field": "x", "type": "quantitative", "scale": {"domain": [-14500000, 373200000], "nice": false, "zero": false}, "axis": {"title": "Runtime [loop cycles]", "values": [0, 50000000, 100000000, 150000000, 200000000, 250000000, 300000000, 350000000], "labelExpr": "datum.value % 100000000 == 0 ? replace(format(datum.value, '.1e'), 'e+', 'e+0') : ''"}},
  "y": {"field": "y", "type": "quantitative", "scale": {"domain": [-0.04, 1.045], "nice": false, "zero": false}, "axis": {"title": "Solution probability", "values": [0, 0.2, 0.4, 0.6, 0.8, 1], "format": ".1f"}},
  "color": {"field": "s", "type": "nominal", "scale": {"domain": ["Satz−Rand: UNSAT", "Satz−Rand: SAT", "G2WSAT: SAT"], "range": ["black", "black", "#999999"]}, "legend": {"title": null, "orient": "none", "legendX": 162, "legendY": 157, "symbolType": "M-3.5,0H3.5", "symbolSize": 100, "symbolStrokeWidth": 2.5, "labelFont": "Liberation Sans", "labelFontSize": 18, "labelColor": "black", "labelOffset": 27, "rowPadding": 3.5, "labelLimit": 300, "padding": 0}},
  "strokeDash": {"field": "s", "type": "nominal", "scale": {"domain": ["Satz−Rand: UNSAT", "Satz−Rand: SAT", "G2WSAT: SAT"], "range": [[2.5, 7.5], [1, 0], [1, 0]]}, "legend": {"title": null, "orient": "none", "legendX": 162, "legendY": 157, "symbolType": "M-3.5,0H3.5", "symbolSize": 100, "symbolStrokeWidth": 2.5, "labelFont": "Liberation Sans", "labelFontSize": 18, "labelColor": "black", "labelOffset": 27, "rowPadding": 3.5, "labelLimit": 300, "padding": 0}}
 }
},
{
 "width": 369, "height": 231,
 "view": {"stroke": null},
 "title": {"text": "(c) Satz-Rand on SAT instances", "orient": "bottom", "frame": "group", "anchor": "middle", "dx": -2, "offset": 20, "font": "Liberation Serif", "fontSize": 22, "fontWeight": "normal", "color": "black"},
 "layer": [
  {"data": {"values": [{"t": 1.045}]}, "mark": {"type": "rule", "color": "black", "strokeWidth": 1},
   "encoding": {"y": {"field": "t", "type": "quantitative", "scale": {"domain": [-0.04, 1.045], "nice": false, "zero": false}, "axis": {"title": "Solution probability", "values": [0, 0.2, 0.4, 0.6, 0.8, 1], "format": ".1f", "domain": true, "domainColor": "black", "domainWidth": 1}}}},
  {"data": {"name": "c"}, "mark": {"type": "line", "strokeWidth": 1, "color": "black", "clip": true},
   "encoding": {
    "x": {"field": "x", "type": "quantitative", "scale": {"domain": [-14200000, 368300000], "nice": false, "zero": false}, "axis": {"title": "Runtime [loop cycles]", "values": [0, 50000000, 100000000, 150000000, 200000000, 250000000, 300000000, 350000000], "labelExpr": "datum.value % 100000000 == 0 ? replace(format(datum.value, '.1e'), 'e+', 'e+0') : ''", "domain": true, "domainColor": "black", "domainWidth": 1}},
    "y": {"field": "y", "type": "quantitative", "scale": {"domain": [-0.04, 1.045], "nice": false, "zero": false}, "axis": {"title": "Solution probability", "values": [0, 0.2, 0.4, 0.6, 0.8, 1], "format": ".1f", "domain": true, "domainColor": "black", "domainWidth": 1}},
    "detail": {"field": "i", "type": "nominal"}
   }}
 ]
},
{
 "width": 374, "height": 231,
 "data": {"name": "b"},
 "title": {"text": "(b) G2WSAT on SAT instances", "orient": "bottom", "frame": "group", "anchor": "middle", "dx": -11, "offset": 20, "font": "Liberation Serif", "fontSize": 22, "fontWeight": "normal", "color": "black"},
 "mark": {"type": "line", "strokeWidth": 1, "color": "black", "clip": true},
 "encoding": {
  "x": {"field": "x", "type": "quantitative", "scale": {"domain": [-2000000, 52000000], "nice": false, "zero": false}, "axis": {"title": "Runtime [loop cycles]", "values": [0, 10000000, 20000000, 30000000, 40000000, 50000000], "labelExpr": "replace(format(datum.value, '.0e'), 'e+', 'e+0')"}},
  "y": {"field": "y", "type": "quantitative", "scale": {"domain": [-0.04, 1.045], "nice": false, "zero": false}, "axis": {"title": "Solution probability", "values": [0, 0.2, 0.4, 0.6, 0.8, 1], "format": ".1f"}},
  "detail": {"field": "i", "type": "nominal"}
 }
},
{
 "width": 369, "height": 231,
 "view": {"stroke": null},
 "title": {"text": "(d) Satz-Rand on UNSAT instances", "orient": "bottom", "frame": "group", "anchor": "middle", "dx": -9, "offset": 20, "font": "Liberation Serif", "fontSize": 22, "fontWeight": "normal", "color": "black"},
 "layer": [
  {"data": {"values": [{"t": 1.045}]}, "mark": {"type": "rule", "color": "black", "strokeWidth": 1},
   "encoding": {"y": {"field": "t", "type": "quantitative", "scale": {"domain": [-0.04, 1.045], "nice": false, "zero": false}, "axis": {"title": "Solution probability", "values": [0, 0.2, 0.4, 0.6, 0.8, 1], "format": ".1f", "domain": true, "domainColor": "black", "domainWidth": 1}}}},
  {"data": {"name": "d"}, "mark": {"type": "line", "strokeWidth": 1, "color": "black", "clip": true},
   "encoding": {
    "x": {"field": "x", "type": "quantitative", "scale": {"domain": [-14200000, 368300000], "nice": false, "zero": false}, "axis": {"title": "Runtime [loop cycles]", "values": [0, 50000000, 100000000, 150000000, 200000000, 250000000, 300000000, 350000000], "labelExpr": "datum.value % 100000000 == 0 ? replace(format(datum.value, '.1e'), 'e+', 'e+0') : ''", "domain": true, "domainColor": "black", "domainWidth": 1}},
    "y": {"field": "y", "type": "quantitative", "scale": {"domain": [-0.04, 1.045], "nice": false, "zero": false}, "axis": {"title": "Solution probability", "values": [0, 0.2, 0.4, 0.6, 0.8, 1], "format": ".1f", "domain": true, "domainColor": "black", "domainWidth": 1}},
    "detail": {"field": "i", "type": "nominal"}
   }}
 ]
}
]
}
